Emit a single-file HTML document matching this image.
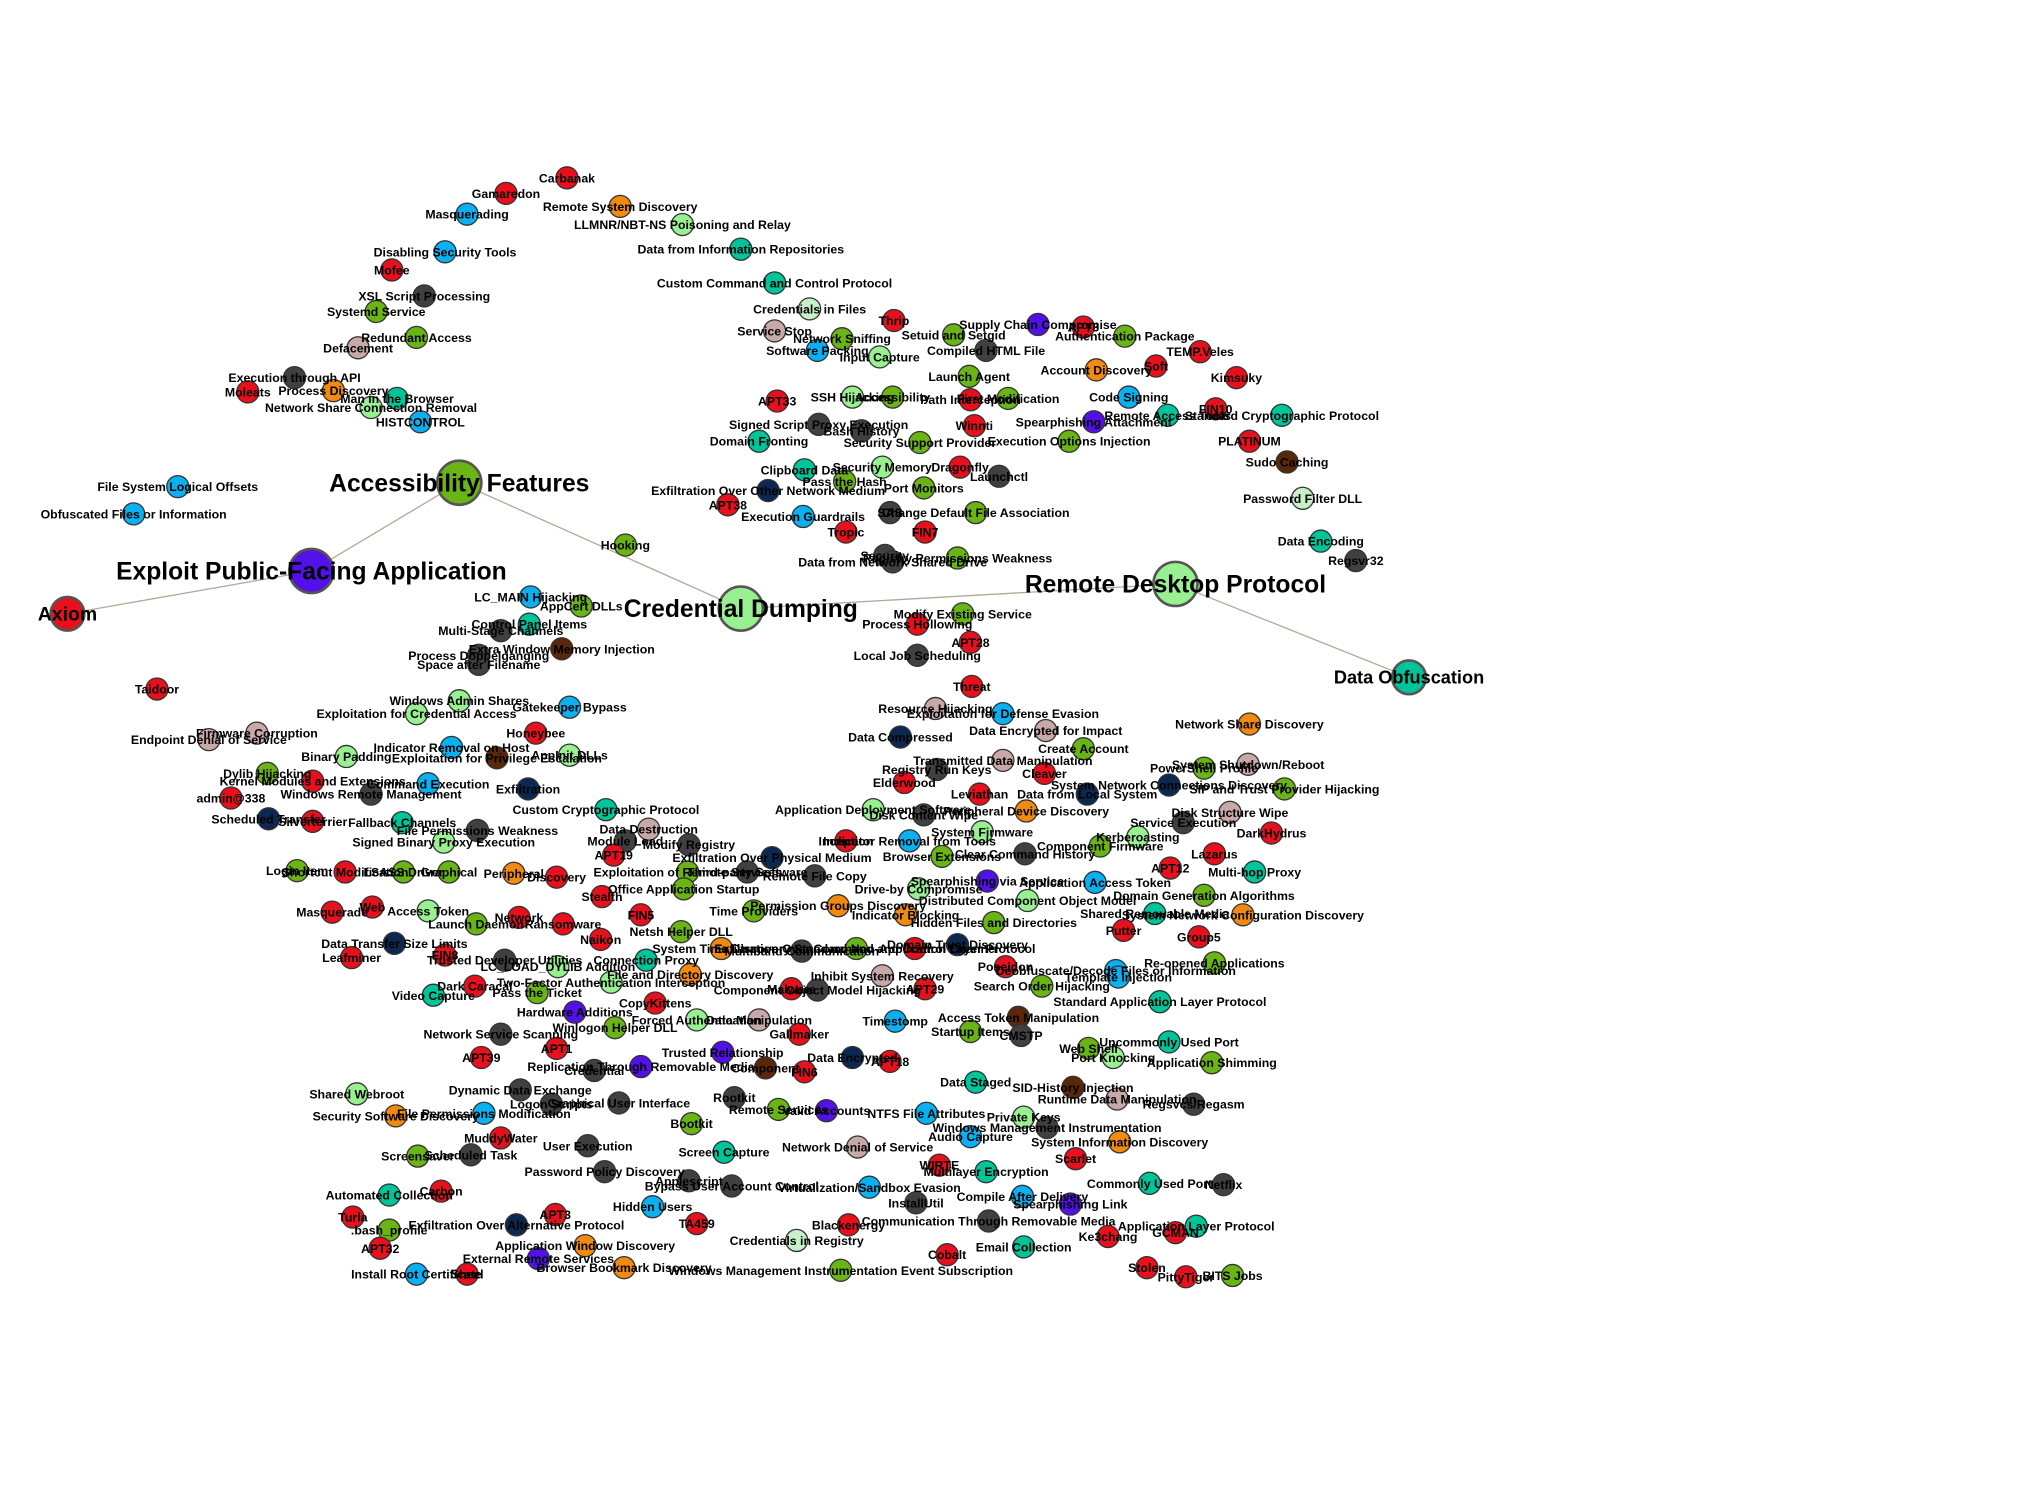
<!DOCTYPE html>
<html><head><meta charset="utf-8">
<style>
html,body{margin:0;padding:0;background:#fff;}
svg{display:block;}
text{font-family:"Liberation Sans",sans-serif;font-weight:bold;fill:#000;}
</style></head>
<body>
<svg id="graph" width="2024" height="1500" viewBox="0 0 1560 1156" xmlns="http://www.w3.org/2000/svg">
<g id="edges"></g>
<g id="nodes"></g>
<g id="labels"></g>
</svg>
<script>
const palette = {r:"#e8101c",b:"#0ab0f0",g:"#6ab416",k:"#404040",t:"#00c49a",o:"#f08a10",l:"#98f090",m:"#c8f0c8",p:"#c8a8a8",u:"#5410e8",n:"#0c2850",w:"#5a2808"};
const hubLabels = ["Axiom","Exploit Public-Facing Application","Accessibility Features","Credential Dumping","Remote Desktop Protocol","Data Obfuscation"];
const hubX = [52,240,354,571,906,1086];
const hubY = [473,440,372,469,450,522];
const hubR = [13,17,17,17,17,13];
const hubColor = ["r","u","g","l","l","t"];
const hubFont = [15,19,19,19,19,14];
const hubEdges = [[0,1],[1,2],[2,3],[3,4],[4,5]];
const nodeLabels = ["Carbanak","Gamaredon","Masquerading","Remote System Discovery","LLMNR/NBT-NS Poisoning and Relay","Disabling Security Tools","Mofee","Data from Information Repositories","XSL Script Processing","Systemd Service","Custom Command and Control Protocol","Credentials in Files","Redundant Access","Defacement","Service Stop","Network Sniffing","Software Packing","Thrip","Setuid and Setgid","Supply Chain Compromise","APT3","Authentication Package","TEMP.Veles","Input Capture","Compiled HTML File","Account Discovery","Soft","Kimsuky","Execution through API","Process Discovery","Moleats","Man in the Browser","Network Share Connection Removal","HISTCONTROL","Launch Agent","APT33","SSH Hijacking","Accessibility","Path Interception","First Modification","Code Signing","Remote Access Tools","Standard Cryptographic Protocol","FIN10","Signed Script Proxy Execution","Winnti","Spearphishing Attachment","Domain Fronting","Bash History","Security Support Provider","Execution Options Injection","PLATINUM","Clipboard Data","Security Memory","Dragonfly","Launchctl","Sudo Caching","Pass the Hash","Port Monitors","Exfiltration Over Other Network Medium","APT38","Password Filter DLL","File System Logical Offsets","Obfuscated Files or Information","SAS","Change Default File Association","Execution Guardrails","Hooking","Tropic","FIN7","Data Encoding","Regsvr32","Security","Registry Permissions Weakness","Data from Network Shared Drive","LC_MAIN Hijacking","AppCert DLLs","Control Panel Items","Multi-Stage Channels","Modify Existing Service","Process Hollowing","Extra Window Memory Injection","Process Doppelganging","Space after Filename","APT28","Local Job Scheduling","Taidoor","Threat","Windows Admin Shares","Gatekeeper Bypass","Exploitation for Credential Access","Resource Hijacking","Exploitation for Defense Evasion","Honeybee","Firmware Corruption","Endpoint Denial of Service","Data Compressed","Data Encrypted for Impact","Create Account","Network Share Discovery","Indicator Removal on Host","Exploitation for Privilege Escalation","Binary Padding","AppInit DLLs","Transmitted Data Manipulation","System Shutdown/Reboot","PowerShell Profile","Dylib Hijacking","Registry Run Keys","Elderwood","Cleaver","System Network Connections Discovery","SIP and Trust Provider Hijacking","Kernel Modules and Extensions","Command Execution","Exfiltration","admin@338","Windows Remote Management","Leviathan","Data from Local System","Disk Structure Wipe","Scheduled Transfer","Silverterrier","Custom Cryptographic Protocol","Application Deployment Software","Peripheral Device Discovery","Service Execution","Fallback Channels","Data Destruction","DarkHydrus","File Permissions Weakness","Signed Binary Proxy Execution","Module Load","Modify Registry","System Firmware","Kerberoasting","Lazarus","Disk Content Wipe","Inception","Indicator Removal from Tools","Clear Command History","Component Firmware","APT19","Browser Extensions","Exfiltration Over Physical Medium","Login Item","Shortcut Modification","LSASS Driver","Graphical","Peripheral","Discovery","APT12","Multi-hop Proxy","Exploitation of Remote Services","Third-party Software","Remote File Copy","Stealth","Office Application Startup","Drive-by Compromise","Spearphishing via Service","Application Access Token","Domain Generation Algorithms","Masquerade","Web","Access Token","Launch Daemon","Network","Ransomware","Time Providers","Permission Groups Discovery","Distributed Component Object Model","Hidden Files and Directories","Indicator Blocking","Shared Removable Media","System Network Configuration Discovery","FIN5","Netsh Helper DLL","Naikon","Putter","Group5","Data Transfer Size Limits","Leafminer","FIN8","Trusted Developer Utilities","Connection Proxy","System Time Discovery","Multiband Communication","Domain Trust Discovery","Exfiltration Over Command and Control Channel","Standard Non-Application Layer Protocol","Deobfuscate/Decode Files or Information","Re-opened Applications","Template Injection","Poseidon","LC_LOAD_DYLIB Addition","File and Directory Discovery","Dark Caracal","Two-Factor Authentication Interception","Component Object Model Hijacking","Inhibit System Recovery","Search Order Hijacking","Video Capture","Pass the Ticket","Malware","APT29","Standard Application Layer Protocol","CopyKittens","Hardware Additions","Forced Authentication","Data Manipulation","Access Token Manipulation","Timestomp","Winlogon Helper DLL","Network Service Scanning","Startup Items","CMSTP","Gallmaker","Uncommonly Used Port","APT39","APT1","Trusted Relationship","Web Shell","Port Knocking","Application Shimming","Replication Through Removable Media","Credential","Component","Data Encrypted","APT18","FIN6","Shared Webroot","Data Staged","SID-History Injection","Dynamic Data Exchange","Runtime Data Manipulation","Regsvcs/Regasm","Rootkit","Graphical User Interface","File Permissions Modification","Security Software Discovery","Logon Scripts","Remote Services","Valid Accounts","NTFS File Attributes","Private Keys","Bootkit","Windows Management Instrumentation","Audio Capture","System Information Discovery","MuddyWater","User Execution","Screensaver","Scheduled Task","Screen Capture","Network Denial of Service","Scarlet","WIRTE","Multilayer Encryption","Password Policy Discovery","Applescript","Commonly Used Port","Netflix","Automated Collection","Carbon","Bypass User Account Control","Virtualization/Sandbox Evasion","Compile After Delivery","Spearphishing Link","Hidden Users","InstallUtil","Turla","APT3","Exfiltration Over Alternative Protocol",".bash_profile","TA459","Blackenergy","Communication Through Removable Media","Application Layer Protocol","Ke3chang","GCMAN","Credentials in Registry","Application Window Discovery","Email Collection","APT32","Cobalt","External Remote Services","Install Root Certificate","Sheel","Browser Bookmark Discovery","Windows Management Instrumentation Event Subscription","Stolen","PittyTiger","BITS Jobs"];
const nodeX = [437,390,360,478,526,343,302,571,327,290,597,624,321,276,597,649,630,689,735,800,835,867,925,678,760,845,891,953,227,257,191,306,286,324,747,599,657,688,748,777,870,900,988,937,631,751,843,585,664,709,824,963,620,680,740,770,992,651,712,592,561,1004,137,103,686,752,619,482,652,713,1018,1045,682,738,688,409,448,408,386,742,707,433,369,369,748,707,121,749,354,439,321,721,773,413,198,161,694,806,835,963,348,383,267,439,773,962,928,206,722,697,805,901,990,241,330,407,178,286,755,838,948,207,241,467,673,791,912,310,500,980,368,342,482,531,757,877,936,712,652,701,790,848,473,726,595,229,266,311,346,396,429,902,967,530,576,628,464,527,708,761,844,928,256,287,330,367,400,434,581,646,792,766,698,890,958,494,525,463,866,924,304,271,343,389,498,556,618,738,660,705,860,936,862,775,430,532,366,471,630,680,803,334,414,610,713,894,505,443,537,585,785,690,474,386,748,787,616,901,371,429,557,839,858,934,494,458,590,657,686,620,275,752,827,401,861,920,566,477,373,305,425,600,637,714,789,533,807,748,863,386,453,322,363,558,661,829,724,760,466,531,886,943,300,340,564,670,788,825,503,706,272,428,398,300,537,654,762,922,854,906,614,451,789,293,730,415,321,360,481,648,884,914,950];
const nodeY = [137,149,165,159,173,194,208,192,228,240,218,238,260,268,255,261,270,247,258,250,252,259,271,275,270,285,282,291,291,301,302,307,314,325,290,309,306,306,308,307,306,320,320,315,327,328,325,340,332,341,340,340,362,360,360,367,356,371,376,378,389,384,375,396,395,395,398,420,410,410,417,432,428,430,433,460,467,481,486,473,481,500,505,512,495,505,531,529,540,545,550,546,550,565,565,570,568,563,577,558,576,584,583,582,586,589,592,596,593,603,596,605,608,602,604,608,615,612,612,612,626,631,633,624,624,625,634,634,639,642,640,649,648,651,641,645,658,628,648,648,658,652,659,660,661,671,672,672,672,673,676,669,672,672,672,675,691,685,685,679,680,690,703,699,702,712,707,712,702,698,694,711,705,704,705,705,718,724,717,722,727,738,736,740,740,731,733,728,731,731,748,742,753,745,745,751,760,757,763,752,760,767,765,762,762,772,773,780,786,786,784,787,792,797,795,798,797,803,815,808,811,808,815,819,822,825,823,815,818,826,843,834,838,840,847,851,846,850,858,860,851,855,856,858,861,866,869,876,880,877,883,891,890,888,884,893,898,903,903,910,912,913,921,918,914,915,922,928,930,927,938,936,944,948,943,944,941,945,953,950,956,960,961,962,967,970,982,982,977,979,977,984,983];
const nodeColor = ["r","r","b","o","l","b","r","t","k","g","t","m","g","p","p","g","b","r","g","u","r","g","r","l","k","o","r","r","k","o","r","t","l","b","g","r","l","g","r","g","b","t","t","r","k","r","u","t","k","g","g","r","t","l","r","k","w","g","g","n","r","m","b","b","k","g","b","g","r","r","t","k","k","g","k","b","g","t","k","g","r","w","k","k","r","k","r","r","l","b","l","p","b","r","p","p","n","p","g","o","b","w","l","l","p","p","g","g","k","r","r","n","g","r","b","n","r","k","r","n","p","n","r","t","l","o","k","t","p","r","k","l","k","k","l","l","r","k","r","b","k","g","r","g","n","g","r","g","g","o","r","r","t","g","k","k","r","g","l","u","b","g","r","r","l","g","r","r","g","o","l","g","o","t","o","r","g","r","r","r","n","r","r","k","t","o","k","n","g","r","b","g","b","r","l","o","r","l","k","p","g","t","g","r","r","t","r","u","l","p","w","b","g","k","g","k","r","t","r","r","u","g","l","g","u","k","w","n","r","r","l","t","w","k","p","k","k","k","b","o","k","g","u","b","l","g","k","b","o","r","k","g","k","t","p","r","r","t","k","k","t","k","t","r","k","b","b","u","b","k","r","r","n","g","r","r","k","t","r","r","m","o","t","r","r","u","b","r","o","g","r","r","g"];

const NS = "http://www.w3.org/2000/svg";
const gE = document.getElementById("edges"), gN = document.getElementById("nodes"), gL = document.getElementById("labels");
hubEdges.forEach(function(e){
  const ln = document.createElementNS(NS,"line");
  ln.setAttribute("x1",hubX[e[0]]); ln.setAttribute("y1",hubY[e[0]]);
  ln.setAttribute("x2",hubX[e[1]]); ln.setAttribute("y2",hubY[e[1]]);
  ln.setAttribute("stroke","#b0a898"); ln.setAttribute("stroke-width","1");
  
  
  gE.appendChild(ln);
});
for (let i=0;i<nodeLabels.length;i++){
  const c = document.createElementNS(NS,"circle");
  c.setAttribute("cx",nodeX[i]); c.setAttribute("cy",nodeY[i]); c.setAttribute("r",8.5);
  c.setAttribute("fill",palette[nodeColor[i]]); c.setAttribute("stroke","#333"); c.setAttribute("stroke-width","1");
  
  
  gN.appendChild(c);
  const t = document.createElementNS(NS,"text");
  t.setAttribute("x",nodeX[i]); t.setAttribute("y",nodeY[i]+3.5);
  t.setAttribute("text-anchor","middle"); t.setAttribute("font-size","9.5");
  t.textContent = nodeLabels[i];
  
  
  gL.appendChild(t);
}
for (let i=0;i<hubLabels.length;i++){
  const c = document.createElementNS(NS,"circle");
  c.setAttribute("cx",hubX[i]); c.setAttribute("cy",hubY[i]); c.setAttribute("r",hubR[i]);
  c.setAttribute("fill",palette[hubColor[i]]); c.setAttribute("stroke","#555"); c.setAttribute("stroke-width","2");
  
  
  gN.appendChild(c);
  const t = document.createElementNS(NS,"text");
  t.setAttribute("x",hubX[i]); t.setAttribute("y",hubY[i]+hubFont[i]*0.35);
  t.setAttribute("text-anchor","middle"); t.setAttribute("font-size",hubFont[i]);
  t.textContent = hubLabels[i];
  
  
  gL.appendChild(t);
}
</script>
</body></html>
